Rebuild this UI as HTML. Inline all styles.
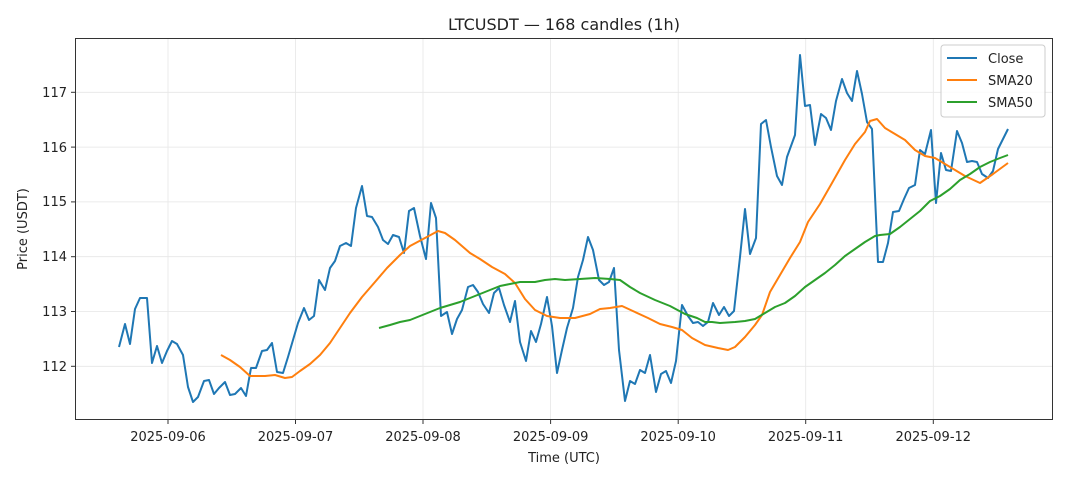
<!DOCTYPE html>
<html><head><meta charset="utf-8"><style>body{margin:0;background:#fff}svg{display:block}text{font-family:"DejaVu Sans","Liberation Sans",sans-serif;fill:#222}</style></head><body>
<svg width="1068" height="481" xmlns="http://www.w3.org/2000/svg">
<rect width="1068" height="481" fill="#fff"/>
<g stroke="#e6e6e6" stroke-width="0.8">
<line x1="168" y1="38.5" x2="168" y2="419.5"/><line x1="295.5" y1="38.5" x2="295.5" y2="419.5"/><line x1="423" y1="38.5" x2="423" y2="419.5"/><line x1="550.6" y1="38.5" x2="550.6" y2="419.5"/><line x1="678.2" y1="38.5" x2="678.2" y2="419.5"/><line x1="805.7" y1="38.5" x2="805.7" y2="419.5"/><line x1="933.3" y1="38.5" x2="933.3" y2="419.5"/>
<line x1="75.5" y1="366.3" x2="1052.5" y2="366.3"/><line x1="75.5" y1="311.5" x2="1052.5" y2="311.5"/><line x1="75.5" y1="256.7" x2="1052.5" y2="256.7"/><line x1="75.5" y1="201.9" x2="1052.5" y2="201.9"/><line x1="75.5" y1="147.1" x2="1052.5" y2="147.1"/><line x1="75.5" y1="92.3" x2="1052.5" y2="92.3"/>
</g>
<g fill="none" stroke-width="2" stroke-linejoin="round">
<polyline stroke="#1f77b4" points="119,347 125,324 130,344 135,309 140,298 147,298 152,363 157,346 162,363 167,351 172,341 177,344 183,355 188,387 193,402 198,397 204,381 209,380 214,394 219,388 225,382 230,395 235,394 241,388 246,396 251,368 256,368 262,351 267,350 272,343 277,372 283,373 288,357 293,340 298,323 304,308 309,320 314,316 319,280 325,290 330,268 335,261 340,246 346,243 351,246 356,208 362,186 367,216 372,217 378,227 383,240 388,244 393,235 399,237 404,253 409,211 414,208 420,236 426,259 431,203 436,218 441,316 447,312 452,334 457,319 462,310 468,287 473,285 478,292 483,304 489,313 494,293 499,288 504,305 510,322 515,301 520,342 526,361 531,331 536,342 541,324 547,297 552,326 557,373 562,350 567,328 573,308 578,277 583,260 588,237 593,250 599,280 604,285 609,282 614,268 619,350 625,401 630,381 635,384 640,370 645,373 650,355 656,392 661,374 666,371 671,383 676,361 682,305 688,316 693,323 698,322 703,326 708,322 713,303 719,315 724,307 729,316 734,311 740,257 745,209 750,254 756,238 761,124 766,120 771,147 777,176 782,185 787,157 795,135 800,55 805,106 810,105 815,145 821,114 826,118 831,130 836,101 842,79 847,93 852,101 857,71 862,94 867,122 872,129 878,262 883,262 888,243 893,212 899,211 904,199 909,188 915,185 920,150 925,154 931,130 936,203 941,153 946,170 951,171 957,131 962,143 967,162 972,161 977,162 982,174 988,178 993,171 998,149 1008,129"/>
<polyline stroke="#ff7f0e" points="221,355 230,360 240,367 250,376 256,376 265,376 275,375 285,378 292,377 300,371 310,364 320,355 330,343 340,328 350,313 362,297 375,282 387,268 400,255 410,246 425,238 438,231 445,233 455,240 470,253 480,259 492,267 505,274 515,283 525,299 535,310 547,316 560,318 575,318 590,314 600,309 610,308 622,306 635,312 648,318 660,324 672,327 682,330 692,338 705,345 718,348 728,350 735,347 745,337 755,325 762,315 770,292 780,275 790,258 800,242 808,222 820,204 832,183 845,160 855,144 865,132 870,121 877,119 885,128 895,134 905,140 915,150 925,156 935,158 945,164 955,170 965,176 980,183 993,174 1008,163"/>
<polyline stroke="#2ca02c" points="379,328 390,325 400,322 410,320 420,316 430,312 440,308 450,305 460,302 470,298 480,294 490,290 500,286 510,284 520,282 535,282 545,280 555,279 565,280 580,279 595,278 610,279 620,280 630,287 640,293 655,300 670,306 685,314 697,318 705,322 712,322 720,323 735,322 745,321 755,319 765,313 775,307 785,303 795,296 805,287 815,280 825,273 835,265 845,256 855,249 865,242 875,236 880,235 890,234 900,227 910,219 920,211 930,201 940,196 950,189 960,180 970,174 980,167 990,162 1000,158 1008,155"/>
</g>
<rect x="75.5" y="38.5" width="977" height="381" fill="none" stroke="#333" stroke-width="1"/>
<g stroke="#333" stroke-width="1">
<line x1="168" y1="419.5" x2="168" y2="424"/><line x1="295.5" y1="419.5" x2="295.5" y2="424"/><line x1="423" y1="419.5" x2="423" y2="424"/><line x1="550.6" y1="419.5" x2="550.6" y2="424"/><line x1="678.2" y1="419.5" x2="678.2" y2="424"/><line x1="805.7" y1="419.5" x2="805.7" y2="424"/><line x1="933.3" y1="419.5" x2="933.3" y2="424"/>
<line x1="71" y1="366.3" x2="75.5" y2="366.3"/><line x1="71" y1="311.5" x2="75.5" y2="311.5"/><line x1="71" y1="256.7" x2="75.5" y2="256.7"/><line x1="71" y1="201.9" x2="75.5" y2="201.9"/><line x1="71" y1="147.1" x2="75.5" y2="147.1"/><line x1="71" y1="92.3" x2="75.5" y2="92.3"/>
</g>
<g font-size="13" text-anchor="middle">
<text x="168" y="441">2025-09-06</text><text x="295.5" y="441">2025-09-07</text><text x="423" y="441">2025-09-08</text><text x="550.6" y="441">2025-09-09</text><text x="678.2" y="441">2025-09-10</text><text x="805.7" y="441">2025-09-11</text><text x="933.3" y="441">2025-09-12</text>
</g>
<g font-size="13" text-anchor="end">
<text x="67" y="371">112</text><text x="67" y="316">113</text><text x="67" y="261">114</text><text x="67" y="206">115</text><text x="67" y="152">116</text><text x="67" y="97">117</text>
</g>
<text x="564" y="462" font-size="13" text-anchor="middle">Time (UTC)</text>
<text transform="translate(27,229) rotate(-90)" font-size="13" text-anchor="middle">Price (USDT)</text>
<text x="564" y="30" font-size="16" text-anchor="middle">LTCUSDT — 168 candles (1h)</text>
<rect x="941" y="45" width="104" height="72" rx="3" fill="#fff" fill-opacity="0.8" stroke="#ccc"/>
<line x1="947" y1="58" x2="977" y2="58" stroke="#1f77b4" stroke-width="2"/><text x="988" y="63" font-size="13">Close</text>
<line x1="947" y1="80" x2="977" y2="80" stroke="#ff7f0e" stroke-width="2"/><text x="988" y="85" font-size="13">SMA20</text>
<line x1="947" y1="102" x2="977" y2="102" stroke="#2ca02c" stroke-width="2"/><text x="988" y="107" font-size="13">SMA50</text>
</svg>
</body></html>
